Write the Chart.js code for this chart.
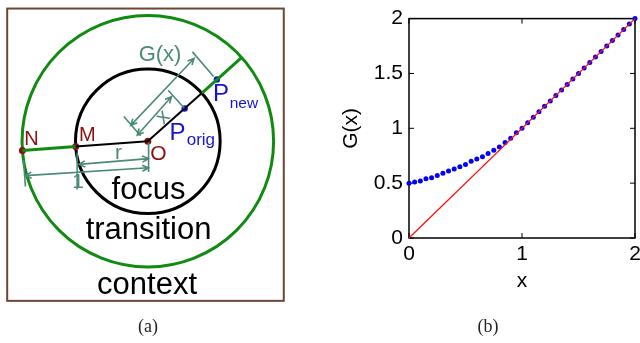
<!DOCTYPE html>
<html>
<head>
<meta charset="utf-8">
<script src="https://cdn.jsdelivr.net/npm/chart.js@4.4.1/dist/chart.umd.min.js"></script>
<style>
  html, body { margin: 0; padding: 0; background: #fff; }
  #wrap { position: relative; width: 640px; height: 343px; overflow: hidden; }
  #wrap canvas { position: absolute; top: 0; }
  #diagram { left: 0; }
  #plot { left: 320px; }
  .cap { position: absolute; top: 316px; width: 60px; text-align: center;
         font: 18px "Liberation Serif", "Times New Roman", serif; color: #222; }
</style>
</head>
<body>
<div id="wrap">
  <canvas id="diagram" width="320" height="343"></canvas>
  <canvas id="plot" width="320" height="343"></canvas>
  <div class="cap" style="left:118px">(a)</div>
  <div class="cap" style="left:458px">(b)</div>
</div>
<script>
// ---- panel (a): diagram, units where the outer circle has radius 1, O at origin
var circleRadii = [1, 0.575];                 // context edge, focus edge
var pointNames = ['O', 'M', 'N', 'Porig', 'Pnew'];
var pointX = [0, -0.573, -0.997, 0.293, 0.549];
var pointY = [0, -0.042, -0.073, 0.260, 0.490];
var innerCut = [0.430, 0.382];                // ray meets focus circle
var outerCut = [0.747, 0.665];                // ray meets outer circle
var frameBox = [-1.118, 1.053, 1.081, -1.267]; // left, top, right, bottom

// dimension arrows and extension lines [x1, y1, x2, y2]
var dimArrows = [
  [-0.549, -0.184, 0.006, -0.138],   // r
  [-0.975, -0.273, 0.006, -0.211],   // 1
  [-0.084, 0.048, 0.188, 0.353],     // x
  [-0.136, 0.126, 0.368, 0.657]      // G(x)
];
var extLines = [
  [-0.562, -0.089, -0.562, -0.384],
  [0.006, -0.012, 0.006, -0.244],
  [-0.988, -0.151, -0.973, -0.360],
  [-0.190, 0.197, -0.058, 0.043],
  [0.161, 0.405, 0.291, 0.262],
  [0.355, 0.709, 0.523, 0.513]
];
var dimLabels = ['r', '1', 'G(x)', 'x'];
var dimLabelX = [-0.233, -0.554, 0.097, 0.122];
var dimLabelY = [-0.093, -0.326, 0.682, 0.191];

var regionWords = ['focus', 'transition', 'context'];
var regionX = [0.006, 0.006, -0.006];
var regionY = [-0.461, -0.779, -1.211];

// ---- panel (b): G(x)
var xVals = [0, 0.05, 0.1, 0.15, 0.2, 0.25, 0.3, 0.35, 0.4, 0.45, 0.5, 0.55, 0.6, 0.65, 0.7,
  0.75, 0.8, 0.85, 0.9, 0.95, 1, 1.05, 1.1, 1.15, 1.2, 1.25, 1.3, 1.35, 1.4, 1.45, 1.5,
  1.55, 1.6, 1.65, 1.7, 1.75, 1.8, 1.85, 1.9, 1.95, 2];
var gVals = [0.50, 0.51, 0.52, 0.54, 0.55, 0.57, 0.59, 0.61, 0.63, 0.65, 0.67, 0.70, 0.72, 0.74, 0.77,
  0.80, 0.83, 0.87, 0.91, 0.96, 1.00, 1.05, 1.10, 1.15, 1.20, 1.25, 1.30, 1.35, 1.40, 1.45, 1.50,
  1.55, 1.60, 1.65, 1.70, 1.75, 1.80, 1.85, 1.90, 1.95, 2.00];
var refX = [0, 2];
var refY = [0, 2];
var xTicks = [0, 1, 2];
var yTicks = [0, 0.5, 1, 1.5, 2];

var SANS = '"Liberation Sans", Arial, Helvetica, sans-serif';
var GREEN = '#118a11', DARKRED = '#8c1010', BLUE = '#1414d2', DIM = '#4b8a79';

function pt(x, y) { return {x: x, y: y}; }

function arrowHead(c, x1, y1, x2, y2) {
  var a = Math.atan2(y1 - y2, x1 - x2), len = 7;
  c.moveTo(x2 + len * Math.cos(a + 0.45), y2 + len * Math.sin(a + 0.45));
  c.lineTo(x2, y2);
  c.lineTo(x2 + len * Math.cos(a - 0.45), y2 + len * Math.sin(a - 0.45));
}

var diagramArt = {
  id: 'diagramArt',
  beforeDatasetsDraw: function(chart) {
    var c = chart.ctx, sx = chart.scales.x, sy = chart.scales.y;
    var ox = sx.getPixelForValue(0), oy = sy.getPixelForValue(0);
    c.save();
    c.strokeStyle = '#6e4636';
    c.lineWidth = 2;
    var l = sx.getPixelForValue(frameBox[0]), t = sy.getPixelForValue(frameBox[1]);
    c.strokeRect(l, t, sx.getPixelForValue(frameBox[2]) - l, sy.getPixelForValue(frameBox[3]) - t);
    circleRadii.forEach(function(r, i) {
      c.beginPath();
      c.arc(ox, oy, sx.getPixelForValue(r) - ox, 0, Math.PI * 2);
      c.strokeStyle = i === 0 ? GREEN : '#000';
      c.lineWidth = 3;
      c.stroke();
    });
    c.restore();
  },
  afterDatasetsDraw: function(chart) {
    var c = chart.ctx, sx = chart.scales.x, sy = chart.scales.y;
    var X = function(v) { return sx.getPixelForValue(v); };
    var Y = function(v) { return sy.getPixelForValue(v); };
    c.save();
    c.strokeStyle = DIM;
    c.lineWidth = 1.6;
    c.beginPath();
    extLines.forEach(function(s) { c.moveTo(X(s[0]), Y(s[1])); c.lineTo(X(s[2]), Y(s[3])); });
    dimArrows.forEach(function(s) {
      var x1 = X(s[0]), y1 = Y(s[1]), x2 = X(s[2]), y2 = Y(s[3]);
      c.moveTo(x1, y1); c.lineTo(x2, y2);
      arrowHead(c, x1, y1, x2, y2);
      arrowHead(c, x2, y2, x1, y1);
    });
    c.stroke();

    c.textAlign = 'center';
    c.textBaseline = 'middle';
    c.fillStyle = DIM;
    dimLabels.forEach(function(txt, i) {
      c.save();
      c.translate(X(dimLabelX[i]), Y(dimLabelY[i]));
      if (txt === 'x') c.rotate(-Math.PI / 4);
      c.font = (txt === 'G(x)' ? 22 : 21) + 'px ' + SANS;
      c.fillText(txt, 0, 0);
      c.restore();
    });

    c.fillStyle = DARKRED;
    c.font = '20px ' + SANS;
    c.fillText('N', X(-0.925), Y(0.015));
    c.fillText('M', X(-0.48), Y(0.043));
    c.font = '21px ' + SANS;
    c.fillText('O', X(0.084), Y(-0.106));

    c.fillStyle = BLUE;
    c.font = '24px ' + SANS;
    c.fillText('P', X(0.236), Y(0.062));
    c.fillText('P', X(0.581), Y(0.368));
    c.font = '17px ' + SANS;
    c.fillText('orig', X(0.422), Y(0.004));
    c.font = '15.5px ' + SANS;
    c.fillText('new', X(0.764), Y(0.298));

    c.fillStyle = '#000';
    c.font = '31px ' + SANS;
    c.textBaseline = 'alphabetic';
    regionWords.forEach(function(w, i) { c.fillText(w, X(regionX[i]), Y(regionY[i])); });
    c.restore();
  }
};

new Chart(document.getElementById('diagram'), {
  type: 'scatter',
  data: {
    datasets: [
      { data: [pt(0, 0), pt(pointX[1], pointY[1])], showLine: true, borderColor: '#000', borderWidth: 2, pointRadius: 0 },
      { data: [pt(pointX[1], pointY[1]), pt(pointX[2], pointY[2])], showLine: true, borderColor: GREEN, borderWidth: 3, pointRadius: 0 },
      { data: [pt(0, 0), pt(innerCut[0], innerCut[1])], showLine: true, borderColor: '#000', borderWidth: 2, pointRadius: 0 },
      { data: [pt(innerCut[0], innerCut[1]), pt(outerCut[0], outerCut[1])], showLine: true, borderColor: GREEN, borderWidth: 3, pointRadius: 0 },
      {
        data: pointX.map(function(v, i) { return pt(v, pointY[i]); }),
        showLine: false,
        pointRadius: [3.5, 3.5, 3.5, 3.2, 3.2],
        pointBorderWidth: 0,
        pointBackgroundColor: pointNames.map(function(n) { return n.charAt(0) === 'P' ? BLUE : DARKRED; })
      }
    ]
  },
  options: {
    responsive: false,
    animation: false,
    devicePixelRatio: 1,
    layout: { padding: 0 },
    plugins: { legend: { display: false }, tooltip: { enabled: false } },
    scales: {
      x: { type: 'linear', display: false, min: -1.1434, max: 1.3372 },
      y: { type: 'linear', display: false, min: -1.5698, max: 1.0891 }
    }
  },
  plugins: [diagramArt]
});

// ---- panel (b)
var axesFrame = {
  id: 'axesFrame',
  beforeDatasetsDraw: function(chart) {
    var c = chart.ctx, a = chart.chartArea, sx = chart.scales.x, sy = chart.scales.y;
    c.save();
    c.strokeStyle = '#000';
    c.lineWidth = 1.5;
    c.strokeRect(a.left, a.top, a.right - a.left, a.bottom - a.top);
    c.beginPath();
    xTicks.forEach(function(v) {
      var p = sx.getPixelForValue(v);
      c.moveTo(p, a.bottom); c.lineTo(p, a.bottom - 5);
      c.moveTo(p, a.top); c.lineTo(p, a.top + 5);
    });
    yTicks.forEach(function(v) {
      var p = sy.getPixelForValue(v);
      c.moveTo(a.left, p); c.lineTo(a.left + 5, p);
      c.moveTo(a.right, p); c.lineTo(a.right - 5, p);
    });
    c.lineWidth = 1;
    c.stroke();
    c.restore();
  }
};

function plainTick(v) { return String(v); }

new Chart(document.getElementById('plot'), {
  type: 'scatter',
  data: {
    datasets: [
      {
        data: refX.map(function(v, i) { return pt(v, refY[i]); }),
        showLine: true, borderColor: '#ff1010', borderWidth: 1.3, pointRadius: 0, clip: false
      },
      {
        data: xVals.map(function(v, i) { return pt(v, gVals[i]); }),
        showLine: false, pointRadius: 2.5, pointBorderWidth: 0,
        pointBackgroundColor: '#0000ff', clip: false
      }
    ]
  },
  options: {
    responsive: false,
    animation: false,
    devicePixelRatio: 1,
    layout: { padding: { top: 13, right: 0, bottom: 0, left: 0 } },
    plugins: { legend: { display: false }, tooltip: { enabled: false } },
    scales: {
      x: {
        type: 'linear', min: 0, max: 2,
        afterBuildTicks: function(s) { s.ticks = xTicks.map(function(v) { return {value: v}; }); },
        afterFit: function(s) { s.height = 105; s.paddingRight = 5; },
        grid: { display: false, drawTicks: false },
        border: { display: false },
        ticks: { padding: 3.5, color: '#000', maxRotation: 0, callback: plainTick, font: { family: SANS, size: 21 } },
        title: { display: true, text: 'x', color: '#000', font: { family: SANS, size: 21 }, padding: { top: 0, bottom: 49.4 } }
      },
      y: {
        type: 'linear', min: 0, max: 2,
        afterBuildTicks: function(s) { s.ticks = yTicks.map(function(v) { return {value: v}; }); },
        afterFit: function(s) { s.width = 89; },
        grid: { display: false, drawTicks: false },
        border: { display: false },
        ticks: { padding: 6, color: '#000', callback: plainTick, font: { family: SANS, size: 21 } },
        title: { display: true, text: 'G(x)', color: '#000', font: { family: SANS, size: 21 }, padding: { top: 19, bottom: 0 } }
      }
    }
  },
  plugins: [axesFrame]
});
</script>
</body>
</html>
